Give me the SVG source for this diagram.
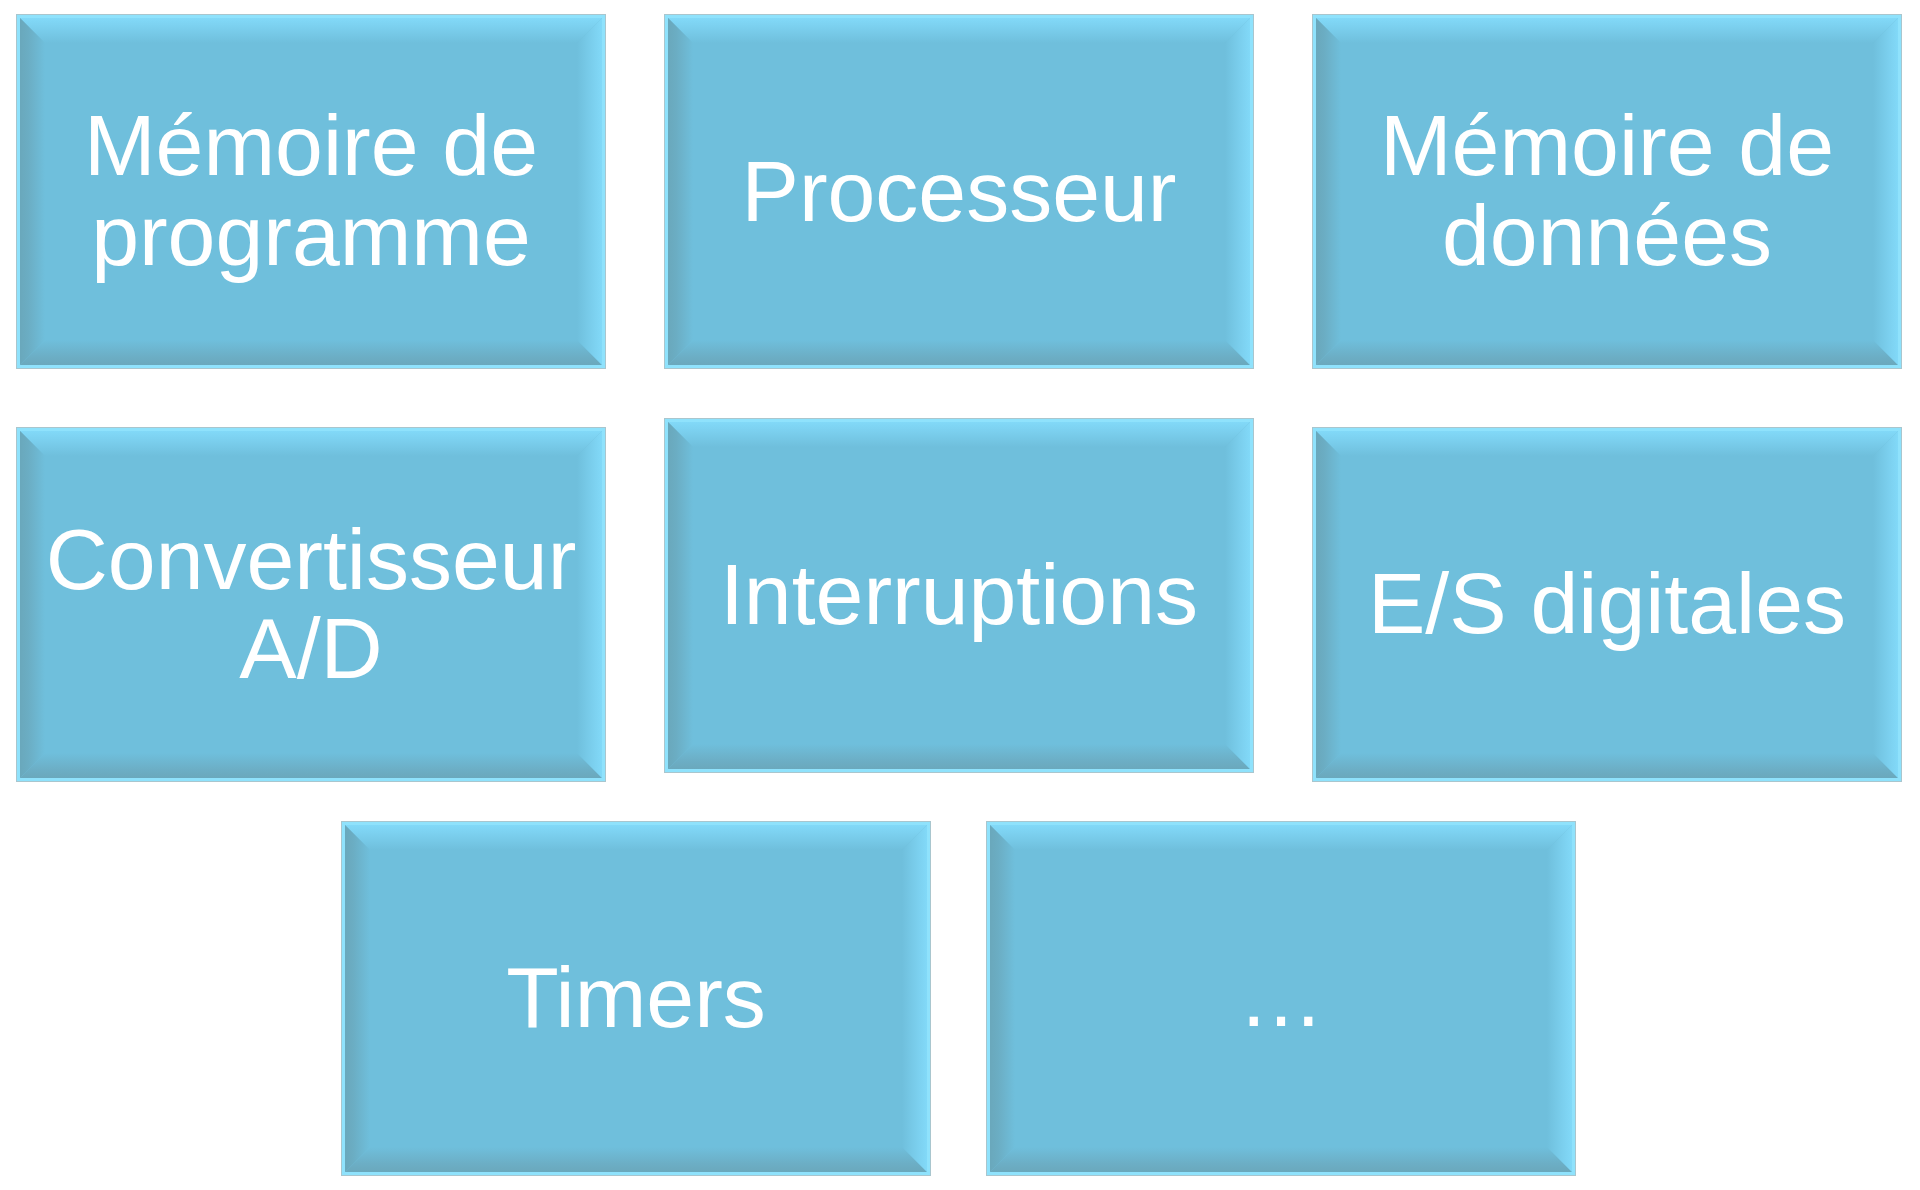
<svg xmlns="http://www.w3.org/2000/svg" xmlns:xlink="http://www.w3.org/1999/xlink" width="1920" height="1190" viewBox="0 0 1920 1190">
<style>
  .lbl { font-family: "Liberation Sans", Arial, sans-serif; font-size: 86px; fill: #ffffff; text-anchor: middle; }
</style>
<defs>
  <linearGradient id="gTop" x1="0" y1="0" x2="0" y2="1">
    <stop offset="0" stop-color="#84dcfb"/>
    <stop offset="0.35" stop-color="#7dd2f1"/>
    <stop offset="1" stop-color="#6fbfdc"/>
  </linearGradient>
  <linearGradient id="gBottom" x1="0" y1="1" x2="0" y2="0">
    <stop offset="0" stop-color="#6aa6b9"/>
    <stop offset="0.4" stop-color="#6caec5"/>
    <stop offset="1" stop-color="#6fbfdc"/>
  </linearGradient>
  <linearGradient id="gLeft" x1="0" y1="0" x2="1" y2="0">
    <stop offset="0" stop-color="#69a6b9"/>
    <stop offset="0.4" stop-color="#6badc3"/>
    <stop offset="1" stop-color="#6fbfdc"/>
  </linearGradient>
  <linearGradient id="gRight" x1="1" y1="0" x2="0" y2="0">
    <stop offset="0" stop-color="#84dcfb"/>
    <stop offset="0.35" stop-color="#7dd2f1"/>
    <stop offset="1" stop-color="#6fbfdc"/>
  </linearGradient>
  <symbol id="box" width="588" height="353" viewBox="0 0 588 353" overflow="visible">
    <rect x="0" y="0" width="588" height="353" fill="#6fbfdc"/>
    <polygon points="0,0 588,0 560,28 28,28" fill="url(#gTop)"/>
    <polygon points="0,353 588,353 560,325 28,325" fill="url(#gBottom)"/>
    <polygon points="0,0 28,28 28,325 0,353" fill="url(#gLeft)"/>
    <polygon points="588,0 560,28 560,325 588,353" fill="url(#gRight)"/>
    <rect x="1.5" y="1.5" width="585" height="350" fill="none" stroke="#8fe2fc" stroke-width="3"/>
    <rect x="-0.5" y="-0.5" width="589" height="354" fill="none" stroke="#a9c6ce" stroke-width="1"/>
  </symbol>
</defs>
<g id="connectors"></g>
<g id="node-memoire-programme">
  <use xlink:href="#box" href="#box" x="17" y="15" width="588" height="353"/>
  <text class="lbl" x="311" y="175">Mémoire de</text>
  <text class="lbl" x="311" y="265">programme</text>
</g>
<g id="node-processeur">
  <use xlink:href="#box" href="#box" x="665" y="15" width="588" height="353"/>
  <text class="lbl" x="959" y="221">Processeur</text>
</g>
<g id="node-memoire-donnees">
  <use xlink:href="#box" href="#box" x="1313" y="15" width="588" height="353"/>
  <text class="lbl" x="1607" y="175">Mémoire de</text>
  <text class="lbl" x="1607" y="265">données</text>
</g>
<g id="node-convertisseur">
  <use xlink:href="#box" href="#box" x="17" y="428" width="588" height="353"/>
  <text class="lbl" x="311" y="589">Convertisseur</text>
  <text class="lbl" x="311" y="678">A/D</text>
</g>
<g id="node-interruptions">
  <use xlink:href="#box" href="#box" x="665" y="419" width="588" height="353"/>
  <text class="lbl" x="959" y="624">Interruptions</text>
</g>
<g id="node-es-digitales">
  <use xlink:href="#box" href="#box" x="1313" y="428" width="588" height="353"/>
  <text class="lbl" x="1607" y="633">E/S digitales</text>
</g>
<g id="node-timers">
  <use xlink:href="#box" href="#box" x="342" y="822" width="588" height="353"/>
  <text class="lbl" x="636" y="1027">Timers</text>
</g>
<g id="node-etc">
  <use xlink:href="#box" href="#box" x="987" y="822" width="588" height="353"/>
  <text class="lbl" x="1281" y="1026">…</text>
</g>
</svg>
